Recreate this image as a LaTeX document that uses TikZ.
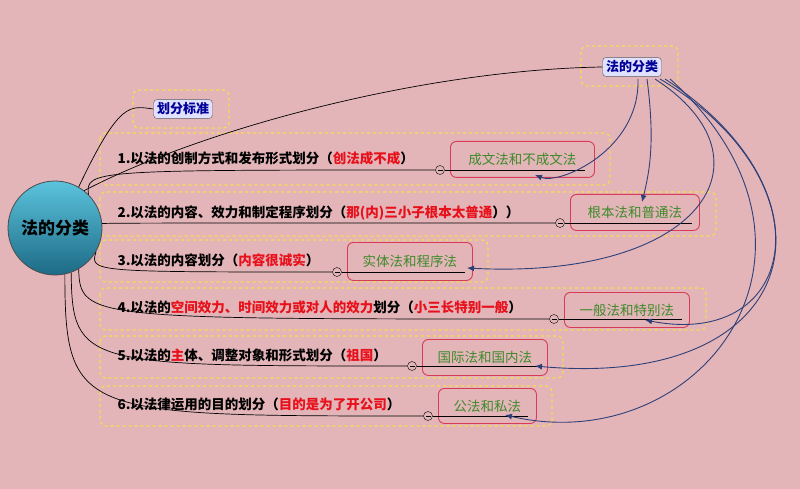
\documentclass[tikz,border=0pt]{standalone}
\usepackage{fontspec}
\newfontfamily\cjk{Noto Sans CJK SC}
\usetikzlibrary{arrows.meta}
\definecolor{bg}{HTML}{E3B5B9}
\definecolor{yl}{HTML}{F7DC50}
\definecolor{gb}{HTML}{D93A55}
\definecolor{gt}{HTML}{3E8A2A}
\definecolor{ar}{HTML}{2E3F78}
\definecolor{rd}{HTML}{E8101A}
\definecolor{tq}{HTML}{5BC3DC}
\definecolor{td}{HTML}{1D6A86}
\begin{document}
\begin{tikzpicture}[x=1pt,y=-1pt,font=\cjk,
 ybox/.style={draw=yl,dashed,line width=1.2pt,rounded corners=6pt},
 gbox/.style={draw=gb,line width=0.9pt,rounded corners=6pt,inner sep=0pt,anchor=north west},
 gtxt/.style={text=gt,font=\cjk\fontsize{13.5}{14}\selectfont},
 rowt/.style={anchor=west,font=\cjk\bfseries\fontsize{13.5}{14}\selectfont},
 bbox/.style={draw=gray!70!black,fill=blue!12,rounded corners=4pt,text=blue!60!black,font=\cjk\bfseries\fontsize{13}{13}\selectfont,inner sep=3.5pt},
 knob/.style={circle,draw=black,fill=bg,inner sep=0pt,minimum size=9pt,path picture={\draw (path picture bounding box.west)++(2pt,0) -- ++(5pt,0);}},
 arr/.style={ar,line width=0.9pt,-{Latex[length=7pt,width=6pt]}},
 ul/.style={line width=0.7pt}]
\fill[bg] (0,0) rectangle (800,489);
\useasboundingbox (0,0) rectangle (800,489);
% yellow outer boxes
\draw[ybox] (133,90) rectangle (229,128);
\draw[ybox] (581,46) rectangle (678,86);
\draw[ybox] (100,133) rectangle (610,185);
\draw[ybox] (100,192) rectangle (716,236);
\draw[ybox] (100,240) rectangle (488,282);
\draw[ybox] (100,288) rectangle (706,330);
\draw[ybox] (100,336) rectangle (563,378);
\draw[ybox] (100,386) rectangle (552,426);
% root
\shade[top color=tq,bottom color=td] (55,228) circle (47);
\node[circle,draw=black!70,line width=0.8pt,minimum size=94pt,font=\cjk\bfseries\fontsize{17}{17}\selectfont] (root) at (55,228) {法的分类};
\node[bbox] (std) at (183,109) {划分标准};
\node[bbox] (cls) at (632,67) {法的分类};
% green boxes
\node[gbox,minimum width=144pt,minimum height=36pt] (g1) at (450,141) {};
\node[gtxt] at (g1.center) {成文法和不成文法};
\node[gbox,minimum width=129pt,minimum height=36pt] (g2) at (570,194) {};
\node[gtxt] at (g2.center) {根本法和普通法};
\node[gbox,minimum width=125pt,minimum height=38pt] (g3) at (347,242) {};
\node[gtxt] at (g3.center) {实体法和程序法};
\node[gbox,minimum width=125pt,minimum height=35pt] (g4) at (564,292) {};
\node[gtxt] at (g4.center) {一般法和特别法};
\node[gbox,minimum width=125pt,minimum height=36pt] (g5) at (422,339) {};
\node[gtxt] at (g5.center) {国际法和国内法};
\node[gbox,minimum width=98pt,minimum height=35pt] (g6) at (438,388) {};
\node[gtxt] at (g6.center) {公法和私法};
% row texts
\node[rowt] (t1) at (114,158) {1.以法的创制方式和发布形式划分（\textcolor{rd}{创法成不成}）};
\node[rowt] (t2) at (114,213) {2.以法的内容、效力和制定程序划分（\textcolor{rd}{那(内)三小子根本太普通}））};
\node[rowt] (t3) at (114,260) {3.以法的内容划分（\textcolor{rd}{内容很诚实}）};
\node[rowt] (t4) at (114,307) {4.以法的\textcolor{rd}{空间效力、时间效力或对人的效力}划分（\textcolor{rd}{小三长特别一般}）};
\node[rowt] (t5) at (114,355) {5.以法的\textcolor{rd}{主}体、调整对象和形式划分（\textcolor{rd}{祖国}）};
\node[rowt] (t6) at (114,404) {6.以法律运用的目的划分（\textcolor{rd}{目的是为了开公司}）};
% knobs
\node[knob] (k1) at (440,170) {};
\node[knob] (k2) at (560,223) {};
\node[knob] (k3) at (337,272) {};
\node[knob] (k4) at (554,319) {};
\node[knob] (k5) at (412,366) {};
\node[knob] (k6) at (428,416) {};
% connectors root -> rows
\draw[ul] (root.60) .. controls (120,100) and (130,106) .. (std.west);
\draw[ul] (root.45) .. controls (85,170) and (95,170) .. (k1.west);
\draw[ul] (k1.east) -- (585,170);
\draw[ul] (root.5) .. controls (100,223) .. (k2.west);
\draw[ul] (k2.east) -- (692,223);
\draw[ul] (root.-30) .. controls (90,272) .. (k3.west);
\draw[ul] (k3.east) -- (465,272);
\draw[ul] (root.-60) .. controls (80,319) and (90,319) .. (k4.west);
\draw[ul] (k4.east) -- (682,319);
\draw[ul] (root.-70) .. controls (72,366) and (85,366) .. (k5.west);
\draw[ul] (k5.east) -- (540,366);
\draw[ul] (root.-78) .. controls (65,416) and (80,416) .. (k6.west);
\draw[ul] (k6.east) -- (528,416);
\draw[ul] (cls.west) .. controls (420,70) and (200,130) .. (root.52);
% arrows from cls
\draw[arr] (638,79) .. controls (640,150) and (560,185) .. (535,175);
\draw[arr] (647,79) .. controls (655,140) and (650,170) .. (642,202);
\draw[arr] (655,79) .. controls (780,160) and (700,280) .. (467,268);
\draw[arr] (660,79) .. controls (830,180) and (800,350) .. (645,320);
\draw[arr] (665,79) .. controls (850,200) and (800,390) .. (535,366);
\draw[arr] (670,79) .. controls (860,250) and (700,460) .. (505,415);
\end{tikzpicture}
\end{document}
